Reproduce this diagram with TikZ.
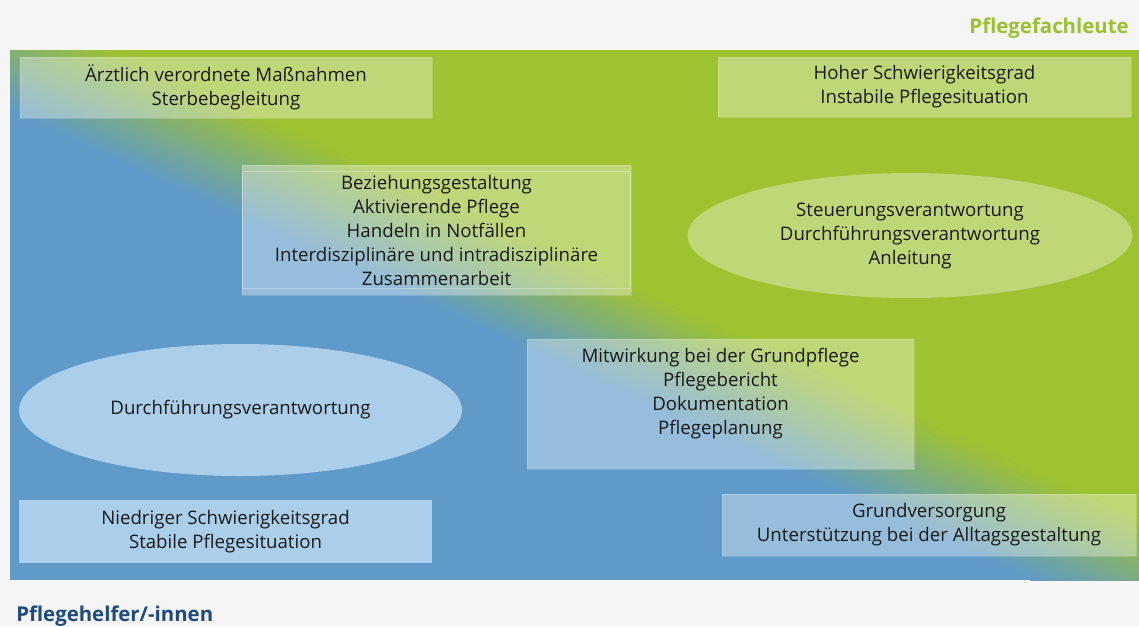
\documentclass[tikz,border=0pt]{standalone}
\usepackage{fontspec}
\setmainfont{Open Sans}
\usetikzlibrary{shapes.geometric}
\definecolor{pgreen}{HTML}{9FC231}
\definecolor{pblue}{HTML}{5F9AC9}
\definecolor{bgray}{HTML}{F5F5F5}
\definecolor{lblue}{HTML}{ABCEEA}
\definecolor{titleblue}{HTML}{1E4A80}
\definecolor{titlegreen}{HTML}{9AC12F}
\definecolor{txtcol}{HTML}{1A1A1A}
\newcommand\bodyfont{\fontsize{14}{18}\selectfont}
\newcommand\headfont{\bfseries\fontsize{15.3}{19}\selectfont}
\tikzset{
  sz/.style 2 args={minimum width=#1*0.75pt, minimum height=#2*0.75pt},
  txtbase/.style={inner sep=0pt, text=txtcol, align=center, font=\bodyfont},
  pbox/.style={txtbase, rectangle, fill=white, fill opacity=0.35, text opacity=1,
    draw=white, draw opacity=0.2, line width=0.6pt},
  pell/.style={txtbase, ellipse, fill=white, fill opacity=0.35, text opacity=1},
  bbox/.style={txtbase, rectangle, fill=lblue},
  bell/.style={txtbase, ellipse, fill=lblue},
  head/.style={inner sep=0pt, font=\headfont},
}
\begin{document}
\begin{tikzpicture}[x=0.75pt,y=-0.75pt]
\fill[bgray] (0,0) rectangle (1139,626);
\useasboundingbox (0,0) rectangle (1139,626);
% panel with diagonal gradient
\begin{scope}
  \clip (10,50) rectangle (1139,580);
  \fill[pblue] (10,50) rectangle (1139,580);
  \begin{scope}[shift={(574.5,316.5)}, rotate=-24.6]
    \fill[pgreen] (-1500,-1500) rectangle (1500,-50);
    \foreach \i in {0,...,49} {
      \pgfmathsetmacro\p{(\i+0.5)/50*100}
      \fill[pblue!\p!pgreen] (-1500,{-50+2*\i}) rectangle (1500,{-50+2*\i+2.4});
    }
  \end{scope}
\end{scope}
% titles
\node[head, anchor=base east, text=titlegreen] (tg) at (1129,33) {Pflegefachleute};
\node[head, anchor=base west, text=titleblue] (tb) at (16,621) {Pflegehelfer/-innen};
% boxes
\node[pbox, sz={412}{61}] (arzt) at (226,87.5) {Ärztlich verordnete Maßnahmen\\Sterbebegleitung};
\node[pbox, sz={413}{60}] (hoher) at (924.5,87) {Hoher Schwierigkeitsgrad\\Instabile Pflegesituation};
\node[pbox, sz={389}{130}] (bez) at (436.5,230) {Beziehungsgestaltung\\Aktivierende Pflege\\Handeln in Notfällen\\Interdisziplinäre und intradisziplinäre\\Zusammenarbeit};
\draw[white, opacity=0.3, line width=0.6pt] ([xshift=0.75pt,yshift=-5.25pt]bez.north west) rectangle ([xshift=-0.75pt,yshift=5.25pt]bez.south east);
\node[pell, sz={445}{125}] (steu) at (910,235.5) {Steuerungsverantwortung\\Durchführungsverantwortung\\Anleitung};
\node[pbox, sz={387}{130}] (mit) at (720.5,404) {};
\node[txtbase] (mittxt) at (720.5,393.5) {Mitwirkung bei der Grundpflege\\Pflegebericht\\Dokumentation\\Pflegeplanung};
\node[bell, sz={443}{132}] (durch) at (240.5,410) {Durchführungsverantwortung};
\node[bbox, sz={413}{63}] (nied) at (225.5,531.5) {Niedriger Schwierigkeitsgrad\\Stabile Pflegesituation};
\node[pbox, sz={414}{62}] (grund) at (929,525) {Grundversorgung\\Unterstützung bei der Alltagsgestaltung};
\end{tikzpicture}
\end{document}
